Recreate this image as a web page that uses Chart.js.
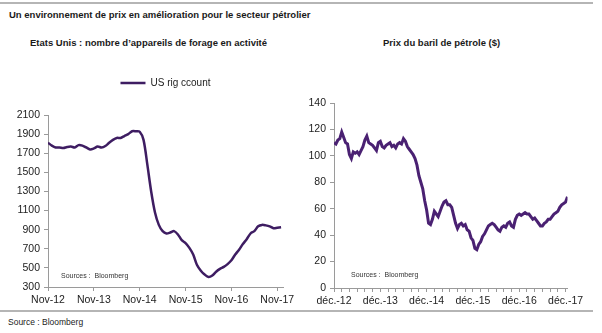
<!DOCTYPE html>
<html lang="fr">
<head>
<meta charset="UTF-8">
<title>Prix du pétrole et forage</title>
<script src="https://cdn.jsdelivr.net/npm/chart.js"></script>
<style>
  body {
    margin: 0;
    width: 602px;
    height: 333px;
    position: relative;
    overflow: hidden;
    background: #fff;
    font-family: 'Liberation Sans', Arial, sans-serif;
    color: #1a1a1a;
  }
  .rule { position: absolute; left: 0; width: 593px; height: 2px; background: #b5b5b5; }
  .title { position: absolute; left: 9px; top: 10px; font-size: 9.5px; font-weight: bold; line-height: 1; white-space: nowrap; }
  .sub { position: absolute; top: 38px; font-size: 9.5px; font-weight: bold; line-height: 1; white-space: nowrap; }
  .box { position: absolute; }
  .src { position: absolute; font-size: 7px; line-height: 1; color: #333; white-space: nowrap; }
  .foot { position: absolute; left: 8px; top: 318px; font-size: 8.5px; line-height: 1; color: #222; }
</style>
</head>
<body>
  <div class="rule" style="top:2px"></div>
  <div class="title">Un environnement de prix en amélioration pour le secteur pétrolier</div>
  <div class="sub" style="left:30px">Etats Unis : nombre d’appareils de forage en activité</div>
  <div class="sub" style="left:383px">Prix du baril de pétrole ($)</div>

  <div class="box" style="left:0; top:61px"><canvas id="rigChart" width="300" height="249"></canvas></div>
  <div class="box" style="left:300px; top:90px"><canvas id="oilChart" width="300" height="220"></canvas></div>

  <div class="src" style="left:61px; top:272px">Sources :&nbsp; Bloomberg</div>
  <div class="src" style="left:351px; top:271px">Sources :&nbsp; Bloomberg</div>

  <div class="rule" style="top:310px"></div>
  <div class="foot">Source : Bloomberg</div>

<script>
// US rig count, monthly from Nov-12 to Dec-17
const rigCount = [
  1810, 1780,
  1760, 1760, 1755, 1765, 1770, 1760, 1785, 1780, 1760, 1740, 1750, 1770,
  1760, 1775, 1810, 1840, 1860, 1860, 1880, 1900, 1930, 1930, 1925, 1840,
  1580, 1300, 1080, 950, 885, 860, 870, 885, 850, 790, 760, 710,
  640, 530, 470, 430, 405, 420, 460, 490, 510, 540, 580, 640,
  690, 750, 800, 860, 885, 935, 950, 945, 935, 915, 920, 925
];
const rigTicks = ['Nov-12', 'Nov-13', 'Nov-14', 'Nov-15', 'Nov-16', 'Nov-17'];

// Brent price in $, twice a month from déc.-12 to déc.-17
const oilPrice = [
  110, 109,
  112, 113, 118, 114, 110, 109, 101, 98, 103, 102, 103, 101,
  104, 107, 112, 115, 110, 109, 108, 106, 104, 110, 111, 107,
  106, 108, 109, 110, 107, 108, 106, 109, 110, 109, 113, 111,
  107, 105, 103, 101, 98, 93, 85, 80, 75, 66, 59, 49,
  48, 52, 58, 56, 54, 58, 62, 65, 66, 63, 63, 61,
  55, 49, 45, 48, 49, 47, 48, 44, 43, 38, 36, 30,
  29, 33, 35, 39, 41, 44, 47, 48, 49, 48, 46, 44,
  43, 46, 47, 46, 49, 50, 47, 46, 52, 55, 56, 55,
  56, 57, 56, 56, 54, 52, 53, 51, 49, 47, 47, 49,
  50, 52, 52, 54, 56, 57, 58, 61, 63, 64, 65, 69
];
const oilTicks = ['déc.-12', 'déc.-13', 'déc.-14', 'déc.-15', 'déc.-16', 'déc.-17'];

Chart.defaults.font.family = "'Liberation Sans', Arial, sans-serif";
Chart.defaults.font.size = 10.5;
Chart.defaults.color = '#222';

const axisGrey = '#9a9a9a';

// extra room between the legend and the plot
const legendGap = {
  id: 'legendGap',
  beforeInit(chart) {
    const fit = chart.legend.fit;
    chart.legend.fit = function () {
      fit.call(this);
      this.height += 17;
    };
  }
};

function xAxis(max, step, labels, height) {
  return {
    type: 'linear',
    min: 0,
    max: max,
    afterFit: s => { s.height = height; },
    border: { color: axisGrey, width: 1 },
    grid: { drawOnChartArea: false, tickLength: 4, color: axisGrey },
    ticks: {
      stepSize: step,
      includeBounds: false,
      autoSkip: false,
      maxRotation: 0,
      padding: 3,
      callback: v => (v % 12 === 0 ? labels[v / 12] : '')
    }
  };
}

function yAxis(min, max, step, width) {
  return {
    min: min,
    max: max,
    afterFit: s => { s.width = width; },
    border: { color: axisGrey, width: 1 },
    grid: { drawOnChartArea: false, tickLength: 4, color: axisGrey },
    ticks: { stepSize: step, padding: 4, callback: v => String(v) }
  };
}

new Chart(document.getElementById('rigChart'), {
  type: 'line',
  data: {
    datasets: [{
      label: 'US rig ccount',
      data: rigCount.map((v, i) => ({ x: i, y: v })),
      borderColor: '#3e1d62',
      backgroundColor: '#3e1d62',
      borderWidth: 2.5,
      pointRadius: 0,
      tension: 0.3
    }]
  },
  options: {
    responsive: false,
    animation: false,
    layout: { padding: { left: 0, right: 17, top: 0, bottom: 0 }, autoPadding: false },
    plugins: {
      legend: {
        fullSize: false,
        labels: { boxWidth: 25, boxHeight: 0, padding: 17, font: { size: 10 }, color: '#222' }
      },
      tooltip: { enabled: false }
    },
    scales: {
      x: xAxis(61.5, 12, rigTicks, 23),
      y: yAxis(300, 2100, 200, 48)
    }
  },
  plugins: [legendGap]
});

new Chart(document.getElementById('oilChart'), {
  type: 'line',
  data: {
    datasets: [{
      label: 'Brent',
      data: oilPrice.map((v, i) => ({ x: i / 2, y: v })),
      borderColor: '#4a2172',
      borderWidth: 3,
      pointRadius: 0,
      tension: 0
    }]
  },
  options: {
    responsive: false,
    animation: false,
    layout: { padding: { left: 0, right: 32.5, top: 13, bottom: 0 }, autoPadding: false },
    plugins: { legend: { display: false }, tooltip: { enabled: false } },
    scales: {
      x: xAxis(60.5, 2, oilTicks, 22),
      y: yAxis(0, 140, 20, 34)
    }
  }
});
</script>
</body>
</html>
